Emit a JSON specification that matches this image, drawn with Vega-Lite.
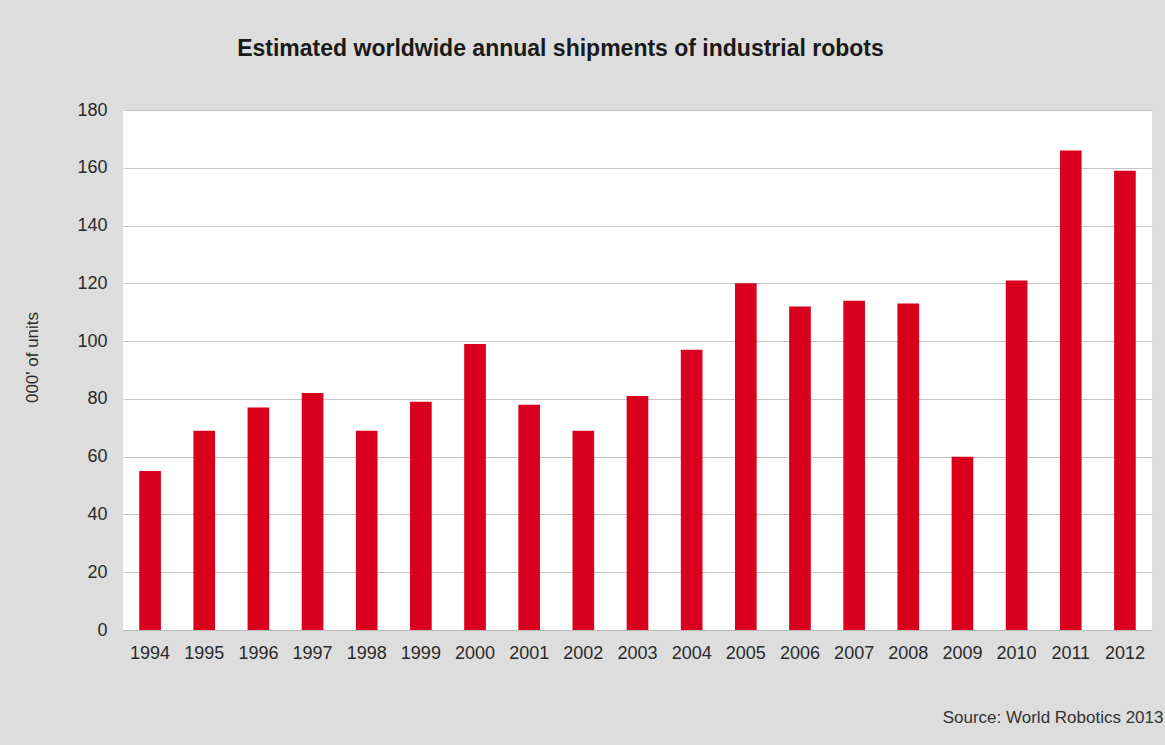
{
  "$schema": "https://vega.github.io/schema/vega-lite/v6.json",
  "width": 1029,
  "height": 520,
  "autosize": {"type": "none"},
  "padding": {"left": 123, "top": 110, "right": 13, "bottom": 115},
  "background": "#dddddd",
  "title": {
    "text": "Estimated worldwide annual shipments of industrial robots",
    "anchor": "middle",
    "frame": "group",
    "dx": -77,
    "offset": 40,
    "font": "Liberation Sans",
    "fontSize": 23,
    "fontWeight": "bold",
    "color": "#1a1a1a"
  },
  "config": {
    "view": {"fill": "white", "stroke": null},
    "font": "Liberation Sans"
  },
  "data": {
    "values": [
      {"year": "1994", "units": 55},
      {"year": "1995", "units": 69},
      {"year": "1996", "units": 77},
      {"year": "1997", "units": 82},
      {"year": "1998", "units": 69},
      {"year": "1999", "units": 79},
      {"year": "2000", "units": 99},
      {"year": "2001", "units": 78},
      {"year": "2002", "units": 69},
      {"year": "2003", "units": 81},
      {"year": "2004", "units": 97},
      {"year": "2005", "units": 120},
      {"year": "2006", "units": 112},
      {"year": "2007", "units": 114},
      {"year": "2008", "units": 113},
      {"year": "2009", "units": 60},
      {"year": "2010", "units": 121},
      {"year": "2011", "units": 166},
      {"year": "2012", "units": 159}
    ]
  },
  "mark": {"type": "bar", "color": "#d9001e"},
  "encoding": {
    "x": {
      "field": "year",
      "type": "ordinal",
      "scale": {"paddingInner": 0.6, "paddingOuter": 0.3},
      "axis": {
        "title": "Source: World Robotics 2013",
        "titleAnchor": "end",
        "titleAlign": "right",
        "titleBaseline": "middle",
        "titleX": 1040,
        "titleY": 87,
        "titleFontSize": 17,
        "titleFontWeight": "normal",
        "titleColor": "#333333",
        "labelAngle": 0,
        "labelFontSize": 18,
        "labelColor": "#2a2a2a",
        "labelPadding": 14,
        "ticks": false,
        "domainColor": "#b8b8b8",
        "domainWidth": 1
      }
    },
    "y": {
      "field": "units",
      "type": "quantitative",
      "scale": {"domain": [0, 180]},
      "axis": {
        "title": "000' of units",
        "titleX": -91,
        "titleY": 247,
        "titleAngle": -90,
        "titleFontSize": 17,
        "titleFontWeight": "normal",
        "titleColor": "#2a2a2a",
        "titleBaseline": "middle",
        "titleAlign": "center",
        "values": [0, 20, 40, 60, 80, 100, 120, 140, 160, 180],
        "labelFontSize": 18,
        "labelColor": "#2a2a2a",
        "labelPadding": 16,
        "ticks": false,
        "domain": false,
        "gridColor": "#c4c4c4",
        "gridWidth": 1
      }
    }
  }
}
